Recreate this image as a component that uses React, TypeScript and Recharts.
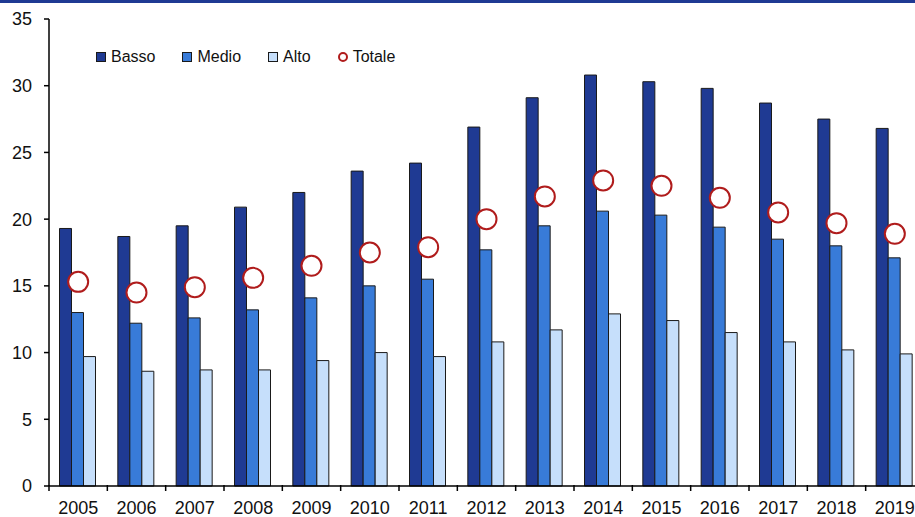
import React from "react";
import { ComposedChart, Bar, Line, XAxis, YAxis } from "recharts";

const years = ["2005", "2006", "2007", "2008", "2009", "2010", "2011", "2012", "2013", "2014", "2015", "2016", "2017", "2018", "2019"];
const basso = [19.3, 18.7, 19.5, 20.9, 22.0, 23.6, 24.2, 26.9, 29.1, 30.8, 30.3, 29.8, 28.7, 27.5, 26.8];
const medio = [13.0, 12.2, 12.6, 13.2, 14.1, 15.0, 15.5, 17.7, 19.5, 20.6, 20.3, 19.4, 18.5, 18.0, 17.1];
const alto = [9.7, 8.6, 8.7, 8.7, 9.4, 10.0, 9.7, 10.8, 11.7, 12.9, 12.4, 11.5, 10.8, 10.2, 9.9];
const totale = [15.3, 14.5, 14.9, 15.6, 16.5, 17.5, 17.9, 20.0, 21.7, 22.9, 22.5, 21.6, 20.5, 19.7, 18.9];
const yTicks = [0, 5, 10, 15, 20, 25, 30, 35];

const data = years.map((y, i) => ({ year: y, basso: basso[i], medio: medio[i], alto: alto[i], totale: totale[i] }));

const FONT = "'Liberation Sans', Arial, sans-serif";
const C_DARK = "#1f3a93";
const C_MED = "#387bd8";
const C_LIGHT = "#c6dffb";
const C_RED = "#b01c1c";
const OUTLINE = "#1a1a1a";

const legendItems = [
  { label: "Basso", color: C_DARK, type: "square" },
  { label: "Medio", color: C_MED, type: "square" },
  { label: "Alto", color: C_LIGHT, type: "square" },
  { label: "Totale", color: C_RED, type: "circle" },
];

const XTick = (props: any) => {
  const { x, y, payload, index, visibleTicksCount } = props;
  const half = payload && payload.offset ? payload.offset : 29.15;
  const axisY = y - 16;
  return (
    <g>
      <line x1={x - half} x2={x - half} y1={axisY} y2={axisY + 6} stroke="#000" strokeWidth={1.5} />
      {index === (visibleTicksCount ?? 15) - 1 ? (
        <line x1={x + half} x2={x + half} y1={axisY} y2={axisY + 6} stroke="#000" strokeWidth={1.5} />
      ) : null}
      <text x={x} y={y} dy="0.71em" textAnchor="middle" fontSize={18} fill="#111" fontFamily={FONT}>
        {payload.value}
      </text>
    </g>
  );
};

const LegendBox = () => (
  <div
    style={{
      position: "absolute",
      top: 47,
      left: 96,
      display: "flex",
      alignItems: "center",
      fontFamily: FONT,
      fontSize: 16,
      lineHeight: "20px",
      color: "#111",
    }}
  >
    {legendItems.map((it) => (
      <div key={it.label} style={{ display: "flex", alignItems: "center", marginRight: 27 }}>
        {it.type === "square" ? (
          <span style={{ display: "inline-block", width: 8, height: 8, background: it.color, border: `1px solid ${OUTLINE}`, marginRight: 5 }} />
        ) : (
          <span style={{ display: "inline-block", width: 6, height: 6, borderRadius: "50%", background: "#fff", border: `2px solid ${it.color}`, marginRight: 5 }} />
        )}
        <span>{it.label}</span>
      </div>
    ))}
  </div>
);

export default function App() {
  return (
    <div style={{ position: "absolute", left: 0, top: 0, width: 915, height: 517, overflow: "hidden", background: "#fff" }}>
      <ComposedChart
        width={930}
        height={517}
        data={data}
        margin={{ top: 19, right: 6, bottom: 0, left: 0 }}
        barCategoryGap="18%"
        barGap={0}
      >
        <XAxis
          dataKey="year"
          height={31}
          tickLine={false}
          tickSize={5}
          tickMargin={10}
          axisLine={{ stroke: "#000", strokeWidth: 1.5 }}
          tick={<XTick />}
          interval={0}
        />
        <YAxis
          width={49}
          domain={[0, 35]}
          ticks={yTicks}
          interval={0}
          tickSize={5}
          tickMargin={12}
          axisLine={{ stroke: "#000", strokeWidth: 1.5 }}
          tickLine={{ stroke: "#000", strokeWidth: 1.5 }}
          tick={{ fontSize: 18, fill: "#111", fontFamily: FONT }}
        />
        <Bar dataKey="basso" name="Basso" fill={C_DARK} stroke={OUTLINE} strokeWidth={1} isAnimationActive={false} />
        <Bar dataKey="medio" name="Medio" fill={C_MED} stroke={OUTLINE} strokeWidth={1} isAnimationActive={false} />
        <Bar dataKey="alto" name="Alto" fill={C_LIGHT} stroke={OUTLINE} strokeWidth={1} isAnimationActive={false} />
        <Line
          dataKey="totale"
          name="Totale"
          stroke="none"
          dot={{ r: 10, fill: "#fff", stroke: C_RED, strokeWidth: 2 }}
          activeDot={false}
          isAnimationActive={false}
        />
      </ComposedChart>
      <LegendBox />
      <div style={{ position: "absolute", left: 0, top: 0, width: 915, height: 3, background: C_DARK }} />
    </div>
  );
}
